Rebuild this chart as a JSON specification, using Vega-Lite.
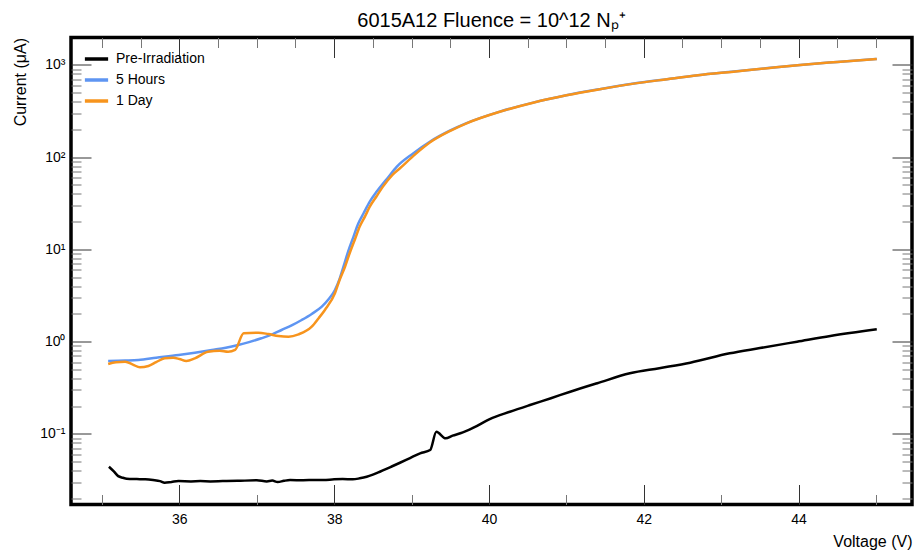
{
  "$schema": "https://vega.github.io/schema/vega-lite/v6.json",
  "width": 841,
  "height": 467,
  "autosize": {"type": "none"},
  "padding": {"left": 71, "top": 37.5, "right": 5, "bottom": 45.5},
  "background": "white",
  "config": {
    "font": "Liberation Sans",
    "view": {"stroke": "black", "strokeWidth": 3.5},
    "axis": {"labelFont": "Liberation Sans", "titleFont": "Liberation Sans", "labelColor": "black", "titleColor": "black", "titleFontWeight": "normal"}
  },
  "title": {"text": "6015A12 Fluence = 10^12 Nₚ⁺", "fontSize": 20, "fontWeight": "normal", "font": "Liberation Sans", "color": "black", "anchor": "middle", "offset": 6},
  "data": {"values": [
    {"series": "Pre-Irradiation", "V": 35.09, "I": 0.0441},
    {"series": "Pre-Irradiation", "V": 35.15, "I": 0.0395},
    {"series": "Pre-Irradiation", "V": 35.21, "I": 0.0349},
    {"series": "Pre-Irradiation", "V": 35.27, "I": 0.0335},
    {"series": "Pre-Irradiation", "V": 35.32, "I": 0.0327},
    {"series": "Pre-Irradiation", "V": 35.45, "I": 0.0324},
    {"series": "Pre-Irradiation", "V": 35.56, "I": 0.0322},
    {"series": "Pre-Irradiation", "V": 35.66, "I": 0.0316},
    {"series": "Pre-Irradiation", "V": 35.75, "I": 0.0308},
    {"series": "Pre-Irradiation", "V": 35.81, "I": 0.0296},
    {"series": "Pre-Irradiation", "V": 35.9, "I": 0.0302},
    {"series": "Pre-Irradiation", "V": 35.99, "I": 0.0308},
    {"series": "Pre-Irradiation", "V": 36.15, "I": 0.0306},
    {"series": "Pre-Irradiation", "V": 36.27, "I": 0.0308},
    {"series": "Pre-Irradiation", "V": 36.4, "I": 0.0306},
    {"series": "Pre-Irradiation", "V": 36.56, "I": 0.0308},
    {"series": "Pre-Irradiation", "V": 36.75, "I": 0.031},
    {"series": "Pre-Irradiation", "V": 37.0, "I": 0.0314},
    {"series": "Pre-Irradiation", "V": 37.13, "I": 0.0306},
    {"series": "Pre-Irradiation", "V": 37.2, "I": 0.0312},
    {"series": "Pre-Irradiation", "V": 37.27, "I": 0.0301},
    {"series": "Pre-Irradiation", "V": 37.35, "I": 0.031},
    {"series": "Pre-Irradiation", "V": 37.43, "I": 0.0316},
    {"series": "Pre-Irradiation", "V": 37.6, "I": 0.0315},
    {"series": "Pre-Irradiation", "V": 37.75, "I": 0.0317},
    {"series": "Pre-Irradiation", "V": 37.86, "I": 0.0316},
    {"series": "Pre-Irradiation", "V": 38.0, "I": 0.0322},
    {"series": "Pre-Irradiation", "V": 38.11, "I": 0.0324},
    {"series": "Pre-Irradiation", "V": 38.24, "I": 0.0322},
    {"series": "Pre-Irradiation", "V": 38.33, "I": 0.033},
    {"series": "Pre-Irradiation", "V": 38.42, "I": 0.0343},
    {"series": "Pre-Irradiation", "V": 38.5, "I": 0.0362},
    {"series": "Pre-Irradiation", "V": 38.59, "I": 0.0389},
    {"series": "Pre-Irradiation", "V": 38.72, "I": 0.0435},
    {"series": "Pre-Irradiation", "V": 38.85, "I": 0.0487},
    {"series": "Pre-Irradiation", "V": 38.98, "I": 0.0548},
    {"series": "Pre-Irradiation", "V": 39.11, "I": 0.0616},
    {"series": "Pre-Irradiation", "V": 39.24, "I": 0.0669},
    {"series": "Pre-Irradiation", "V": 39.32, "I": 0.1056},
    {"series": "Pre-Irradiation", "V": 39.44, "I": 0.0896},
    {"series": "Pre-Irradiation", "V": 39.53, "I": 0.096},
    {"series": "Pre-Irradiation", "V": 39.63, "I": 0.1016},
    {"series": "Pre-Irradiation", "V": 39.8, "I": 0.117},
    {"series": "Pre-Irradiation", "V": 40.01, "I": 0.145},
    {"series": "Pre-Irradiation", "V": 40.27, "I": 0.174},
    {"series": "Pre-Irradiation", "V": 40.53, "I": 0.206},
    {"series": "Pre-Irradiation", "V": 40.8, "I": 0.244},
    {"series": "Pre-Irradiation", "V": 41.05, "I": 0.287},
    {"series": "Pre-Irradiation", "V": 41.4, "I": 0.355},
    {"series": "Pre-Irradiation", "V": 41.82, "I": 0.454},
    {"series": "Pre-Irradiation", "V": 42.2, "I": 0.516},
    {"series": "Pre-Irradiation", "V": 42.6, "I": 0.592},
    {"series": "Pre-Irradiation", "V": 43.11, "I": 0.748},
    {"series": "Pre-Irradiation", "V": 43.5, "I": 0.853},
    {"series": "Pre-Irradiation", "V": 43.98, "I": 1.0},
    {"series": "Pre-Irradiation", "V": 44.41, "I": 1.153},
    {"series": "Pre-Irradiation", "V": 45.01, "I": 1.362},
    {"series": "5 Hours", "V": 35.08, "I": 0.618},
    {"series": "5 Hours", "V": 35.3, "I": 0.625},
    {"series": "5 Hours", "V": 35.47, "I": 0.634},
    {"series": "5 Hours", "V": 35.7, "I": 0.67},
    {"series": "5 Hours", "V": 35.99, "I": 0.718},
    {"series": "5 Hours", "V": 36.2, "I": 0.76},
    {"series": "5 Hours", "V": 36.42, "I": 0.813},
    {"series": "5 Hours", "V": 36.6, "I": 0.86},
    {"series": "5 Hours", "V": 36.76, "I": 0.921},
    {"series": "5 Hours", "V": 36.9, "I": 0.99},
    {"series": "5 Hours", "V": 37.06, "I": 1.089},
    {"series": "5 Hours", "V": 37.2, "I": 1.2},
    {"series": "5 Hours", "V": 37.32, "I": 1.339},
    {"series": "5 Hours", "V": 37.45, "I": 1.5},
    {"series": "5 Hours", "V": 37.58, "I": 1.719},
    {"series": "5 Hours", "V": 37.71, "I": 2.0},
    {"series": "5 Hours", "V": 37.84, "I": 2.4},
    {"series": "5 Hours", "V": 37.93, "I": 2.9},
    {"series": "5 Hours", "V": 38.01, "I": 3.64},
    {"series": "5 Hours", "V": 38.07, "I": 4.8},
    {"series": "5 Hours", "V": 38.12, "I": 6.51},
    {"series": "5 Hours", "V": 38.18, "I": 9.5},
    {"series": "5 Hours", "V": 38.25, "I": 13.8},
    {"series": "5 Hours", "V": 38.31, "I": 19},
    {"series": "5 Hours", "V": 38.38, "I": 24.7},
    {"series": "5 Hours", "V": 38.46, "I": 33},
    {"series": "5 Hours", "V": 38.55, "I": 42.4},
    {"series": "5 Hours", "V": 38.68, "I": 58},
    {"series": "5 Hours", "V": 38.81, "I": 79.1},
    {"series": "5 Hours", "V": 39.02, "I": 110},
    {"series": "5 Hours", "V": 39.24, "I": 148},
    {"series": "5 Hours", "V": 39.5, "I": 195},
    {"series": "5 Hours", "V": 39.71, "I": 234},
    {"series": "5 Hours", "V": 40.14, "I": 312},
    {"series": "5 Hours", "V": 40.57, "I": 391},
    {"series": "5 Hours", "V": 41.0, "I": 470},
    {"series": "5 Hours", "V": 41.43, "I": 547},
    {"series": "5 Hours", "V": 41.85, "I": 625},
    {"series": "5 Hours", "V": 42.3, "I": 702},
    {"series": "5 Hours", "V": 42.7, "I": 775},
    {"series": "5 Hours", "V": 43.16, "I": 848},
    {"series": "5 Hours", "V": 43.6, "I": 925},
    {"series": "5 Hours", "V": 44.02, "I": 1002},
    {"series": "5 Hours", "V": 44.5, "I": 1080},
    {"series": "5 Hours", "V": 45.01, "I": 1164},
    {"series": "1 Day", "V": 35.08, "I": 0.573},
    {"series": "1 Day", "V": 35.18, "I": 0.6},
    {"series": "1 Day", "V": 35.3, "I": 0.607},
    {"series": "1 Day", "V": 35.4, "I": 0.565},
    {"series": "1 Day", "V": 35.49, "I": 0.527},
    {"series": "1 Day", "V": 35.6, "I": 0.545},
    {"series": "1 Day", "V": 35.7, "I": 0.6},
    {"series": "1 Day", "V": 35.81, "I": 0.661},
    {"series": "1 Day", "V": 35.92, "I": 0.67},
    {"series": "1 Day", "V": 36.0, "I": 0.65},
    {"series": "1 Day", "V": 36.09, "I": 0.618},
    {"series": "1 Day", "V": 36.2, "I": 0.66},
    {"series": "1 Day", "V": 36.37, "I": 0.779},
    {"series": "1 Day", "V": 36.52, "I": 0.799},
    {"series": "1 Day", "V": 36.63, "I": 0.779},
    {"series": "1 Day", "V": 36.72, "I": 0.813},
    {"series": "1 Day", "V": 36.83, "I": 1.233},
    {"series": "1 Day", "V": 37.02, "I": 1.252},
    {"series": "1 Day", "V": 37.15, "I": 1.21},
    {"series": "1 Day", "V": 37.28, "I": 1.153},
    {"series": "1 Day", "V": 37.41, "I": 1.133},
    {"series": "1 Day", "V": 37.54, "I": 1.203},
    {"series": "1 Day", "V": 37.71, "I": 1.454},
    {"series": "1 Day", "V": 37.8, "I": 1.8},
    {"series": "1 Day", "V": 37.88, "I": 2.21},
    {"series": "1 Day", "V": 38.01, "I": 3.35},
    {"series": "1 Day", "V": 38.07, "I": 4.67},
    {"series": "1 Day", "V": 38.14, "I": 6.5},
    {"series": "1 Day", "V": 38.2, "I": 9.1},
    {"series": "1 Day", "V": 38.27, "I": 13},
    {"series": "1 Day", "V": 38.33, "I": 17.7},
    {"series": "1 Day", "V": 38.4, "I": 23},
    {"series": "1 Day", "V": 38.46, "I": 29.1},
    {"series": "1 Day", "V": 38.55, "I": 38},
    {"series": "1 Day", "V": 38.63, "I": 48},
    {"series": "1 Day", "V": 38.75, "I": 64},
    {"series": "1 Day", "V": 38.85, "I": 76},
    {"series": "1 Day", "V": 39.05, "I": 108},
    {"series": "1 Day", "V": 39.24, "I": 145},
    {"series": "1 Day", "V": 39.5, "I": 193},
    {"series": "1 Day", "V": 39.71, "I": 233},
    {"series": "1 Day", "V": 40.14, "I": 311},
    {"series": "1 Day", "V": 40.57, "I": 390},
    {"series": "1 Day", "V": 41.0, "I": 469},
    {"series": "1 Day", "V": 41.43, "I": 546},
    {"series": "1 Day", "V": 41.85, "I": 624},
    {"series": "1 Day", "V": 42.3, "I": 701},
    {"series": "1 Day", "V": 42.7, "I": 774},
    {"series": "1 Day", "V": 43.16, "I": 847},
    {"series": "1 Day", "V": 43.6, "I": 924},
    {"series": "1 Day", "V": 44.02, "I": 1001},
    {"series": "1 Day", "V": 44.5, "I": 1079},
    {"series": "1 Day", "V": 45.01, "I": 1163}
  ]},
  "layer": [
    {
      "mark": {"type": "line", "strokeWidth": 2.5, "interpolate": "monotone"},
      "encoding": {
        "x": {
          "field": "V", "type": "quantitative",
          "scale": {"domain": [34.6, 45.465], "nice": false, "zero": false},
          "axis": {
            "orient": "bottom",
            "grid": false, "domain": false,
            "values": [35, 35.5, 36, 36.5, 37, 37.5, 38, 38.5, 39, 39.5, 40, 40.5, 41, 41.5, 42, 42.5, 43, 43.5, 44, 44.5, 45],
            "format": "d",
            "labelExpr": "datum.value % 2 == 0 ? datum.label : ''",
            "tickSize": -20,
            "tickDash": {"condition": {"test": "datum.value % 2 == 0", "value": [20, 0]}, "value": [10, 30]},
            "tickColor": {"condition": {"test": "datum.value % 2 == 0", "value": "#333333"}, "value": "#777777"},
            "labelPadding": 28,
            "labelFontSize": 14,
            "title": "Voltage (V)",
            "titleFontSize": 16,
            "titleAnchor": "end",
            "titleY": 37,
            "titleBaseline": "middle"
          }
        },
        "y": {
          "field": "I", "type": "quantitative",
          "scale": {"type": "log", "domain": [0.01718, 1986], "nice": false},
          "axis": {
            "orient": "left",
            "gridOpacity": 0, "domainOpacity": 0,
            "values": [0.02, 0.03, 0.04, 0.05, 0.06, 0.07, 0.08, 0.09, 0.1, 0.2, 0.3, 0.4, 0.5, 0.6, 0.7, 0.8, 0.9, 1, 2, 3, 4, 5, 6, 7, 8, 9, 10, 20, 30, 40, 50, 60, 70, 80, 90, 100, 200, 300, 400, 500, 600, 700, 800, 900, 1000],
            "labelExpr": "datum.value == 1000 ? '10³' : datum.value == 100 ? '10²' : datum.value == 10 ? '10¹' : datum.value == 1 ? '10⁰' : datum.value == 0.1 ? '10⁻¹' : ''",
            "tickSize": -20,
            "tickDash": {"condition": {"test": "indexof([0.1, 1, 10, 100, 1000], datum.value) >= 0", "value": [20, 0]}, "value": [10, 30]},
            "tickColor": {"condition": {"test": "indexof([0.1, 1, 10, 100, 1000], datum.value) >= 0", "value": "#333333"}, "value": "#777777"},
            "labelPadding": 26,
            "labelFontSize": 14,
            "title": "Current (μA)",
            "titleFontSize": 16,
            "titleAnchor": "end",
            "titleX": -51,
            "titleBaseline": "middle"
          }
        },
        "color": {
          "field": "series", "type": "nominal",
          "scale": {"domain": ["Pre-Irradiation", "5 Hours", "1 Day"], "range": ["#000000", "#5E95F2", "#F7941D"]},
          "legend": {
            "orient": "none", "legendX": 12, "legendY": 8, "title": null,
            "symbolType": "stroke", "symbolSize": 540, "symbolStrokeWidth": 3.5,
            "labelFontSize": 14, "labelFont": "Liberation Sans", "labelColor": "black",
            "labelOffset": 6, "rowPadding": -3.5, "padding": 0
          }
        }
      }
    },
    {
      "transform": [{"filter": "datum.V > 45"}],
      "mark": {"type": "point", "opacity": 0},
      "encoding": {
        "x": {"field": "V", "type": "quantitative", "axis": {
          "orient": "top", "gridOpacity": 0, "domainOpacity": 0, "labels": false, "title": null,
          "values": [35, 35.5, 36, 36.5, 37, 37.5, 38, 38.5, 39, 39.5, 40, 40.5, 41, 41.5, 42, 42.5, 43, 43.5, 44, 44.5, 45],
          "tickSize": -20,
          "tickDash": {"condition": {"test": "datum.value % 2 == 0", "value": [20, 0]}, "value": [10, 30]},
          "tickColor": {"condition": {"test": "datum.value % 2 == 0", "value": "#333333"}, "value": "#777777"}}},
        "y": {"field": "I", "type": "quantitative", "axis": {
          "orient": "right", "gridOpacity": 0, "domainOpacity": 0, "labels": false, "title": null,
          "values": [0.02, 0.03, 0.04, 0.05, 0.06, 0.07, 0.08, 0.09, 0.1, 0.2, 0.3, 0.4, 0.5, 0.6, 0.7, 0.8, 0.9, 1, 2, 3, 4, 5, 6, 7, 8, 9, 10, 20, 30, 40, 50, 60, 70, 80, 90, 100, 200, 300, 400, 500, 600, 700, 800, 900, 1000],
          "tickSize": -20,
          "tickDash": {"condition": {"test": "indexof([0.1, 1, 10, 100, 1000], datum.value) >= 0", "value": [20, 0]}, "value": [10, 30]},
          "tickColor": {"condition": {"test": "indexof([0.1, 1, 10, 100, 1000], datum.value) >= 0", "value": "#333333"}, "value": "#777777"}}}
      }
    }
  ],
  "resolve": {"axis": {"x": "independent", "y": "independent"}}
}
